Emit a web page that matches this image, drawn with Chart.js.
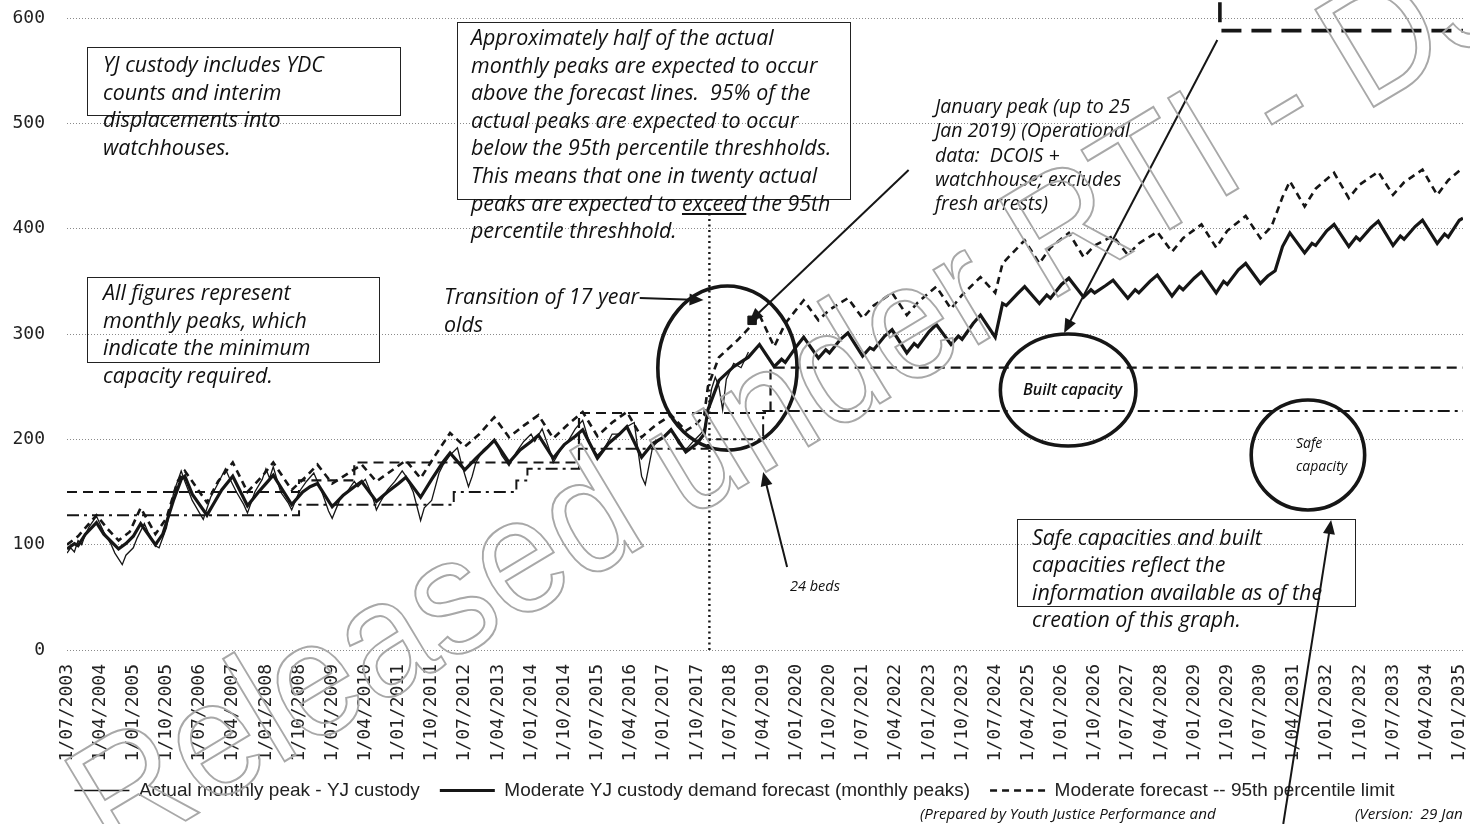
<!DOCTYPE html>
<html>
<head>
<meta charset="utf-8">
<title>YJ custody demand forecast</title>
<script src="https://cdn.jsdelivr.net/npm/chart.js@4.4.1/dist/chart.umd.min.js"></script>
<style>
  html, body { margin: 0; padding: 0; background: #fff; }
  #wrap { position: relative; width: 1470px; height: 824px; overflow: hidden; }
  #chart { position: absolute; left: 0; top: 0; }
  .note { position: absolute; font-family: "Open Sans", sans-serif; font-style: italic; font-size: 21.4px; line-height: 27.6px; color: #111; white-space: nowrap; }
  .box { position: absolute; border: 1.4px solid #222; box-sizing: border-box; }
  .small { font-size: 14.5px; line-height: 18px; }
  .wm { position: absolute; left: 0; top: 0; transform-origin: 0 0;
        transform: translate(118px, 872px) rotate(-31deg) scale(0.9, 1) translate(0, -148px);
        font-family: "Liberation Sans", sans-serif; font-size: 165px; line-height: 1; color: transparent;
        -webkit-text-stroke: 2px #a8a8a8; white-space: nowrap; pointer-events: none; }
</style>
</head>
<body>
<div id="wrap">
  <canvas id="chart" width="1470" height="824"></canvas>

  <div class="box" style="left:87px; top:47px; width:314px; height:69px;"></div>
  <div class="note" style="left:103px; top:50px;">YJ custody includes YDC<br>counts and interim<br>displacements into<br>watchhouses.</div>

  <div class="box" style="left:87px; top:277px; width:293px; height:86px;"></div>
  <div class="note" style="left:103px; top:278px;">All figures represent<br>monthly peaks, which<br>indicate the minimum<br>capacity required.</div>

  <div class="box" style="left:457px; top:22px; width:394px; height:178px;"></div>
  <div class="note" style="left:471px; top:23px;">Approximately half of the actual<br>monthly peaks are expected to occur<br>above the forecast lines.&nbsp; 95% of the<br>actual peaks are expected to occur<br>below the 95th percentile threshholds.<br>This means that one in twenty actual<br>peaks are expected to <u>exceed</u> the 95th<br>percentile threshhold.</div>

  <div class="note" style="left:444px; top:282px; line-height:28px;">Transition of 17 year<br>olds</div>

  <div class="note" style="left:935px; top:94px; font-size:19.5px; line-height:24.3px;">January peak (up to 25<br>Jan 2019) (Operational<br>data:&nbsp; DCOIS +<br>watchhouse; excludes<br>fresh arrests)</div>

  <div class="note small" style="left:1023px; top:380px; font-size:16px; font-weight:600;">Built capacity</div>
  <div class="note small" style="left:1296px; top:431px; font-size:14px; line-height:23px;">Safe<br>capacity</div>
  <div class="note small" style="left:790px; top:577px;">24 beds</div>

  <div class="box" style="left:1017px; top:519px; width:339px; height:88px;"></div>
  <div class="note" style="left:1032px; top:523px; line-height:27.3px;">Safe capacities and built<br>capacities reflect the<br>information available as of the<br>creation of this graph.</div>

  <div class="note" style="left:920px; top:805px; font-size:15.2px; line-height:16px;">(Prepared by Youth Justice Performance and</div>
  <div class="note" style="left:1355px; top:805px; font-size:15.2px; line-height:16px;">(Version:&nbsp; 29 Jan</div>

  <div class="wm">Released under RTI - DJAG</div>
</div>

<script>
// Month axis starts at July 2003; x values are months since then
const START_YEAR = 2003;
const START_MONTH = 7;
const END_MONTH = '2035-02';

// Actual monthly peak - YJ custody
const actualMonths = [
  '2003-07','2003-08','2003-09','2003-10','2003-11','2003-12',
  '2004-01','2004-03','2004-05','2004-07','2004-08','2004-10','2004-11',
  '2005-01','2005-02','2005-04','2005-05','2005-07','2005-08','2005-10','2005-12',
  '2006-02','2006-03','2006-05','2006-07','2006-08','2006-10','2006-12',
  '2007-02','2007-03','2007-05','2007-07','2007-08','2007-10','2007-12',
  '2008-01','2008-02','2008-03','2008-05','2008-07','2008-08','2008-10','2008-12',
  '2009-02','2009-04','2009-06','2009-07','2009-09','2009-11',
  '2010-01','2010-02','2010-04','2010-06','2010-07','2010-08','2010-10','2010-12',
  '2011-02','2011-03','2011-05','2011-07','2011-08','2011-10','2011-12',
  '2012-01','2012-03','2012-05','2012-06','2012-08','2012-09','2012-10','2012-12',
  '2013-02','2013-03','2013-05','2013-07','2013-09','2013-11',
  '2014-01','2014-02','2014-04','2014-06','2014-07','2014-09','2014-11',
  '2015-01','2015-03','2015-05','2015-07','2015-09','2015-11',
  '2016-01','2016-03','2016-05','2016-06','2016-07','2016-08','2016-09','2016-10','2016-12',
  '2017-02','2017-03','2017-05','2017-07','2017-09','2017-11','2017-12',
  '2018-01','2018-02','2018-03','2018-04','2018-05','2018-06','2018-08','2018-10','2018-12'
];
const actualValues = [
  92, 97, 93, 104, 100, 110,
  117, 127, 112, 100, 92, 81, 90,
  97, 106, 120, 112, 99, 97, 116, 150,
  170, 160, 142, 130, 124, 145, 158,
  172, 164, 150, 138, 130, 150, 162,
  172, 163, 174, 150, 140, 133, 150, 160,
  168, 152, 132, 125, 142, 150,
  160, 155, 162, 145, 133, 140, 152, 160,
  170, 165, 150, 123, 135, 142, 168,
  175, 185, 192, 178, 155, 165, 178, 190,
  196, 200, 185, 175, 188, 198,
  205, 198, 210, 190, 178, 190, 198,
  210, 218, 195, 185, 192, 205,
  205, 212, 216, 190, 165, 157, 175, 193, 200,
  206, 210, 196, 190, 198, 205, 210,
  226, 248, 259, 250, 228, 257, 272, 268, 283
];

// January 2019 operational peak
const janMonths = ['2019-01'];
const janValues = [313];

// Moderate YJ custody demand forecast (monthly peaks)
const forecastMonths = [
  '2003-07','2003-09','2003-10','2003-12',
  '2004-03','2004-05','2004-09','2004-11',
  '2005-01','2005-03','2005-07','2005-09','2005-12',
  '2006-02','2006-03','2006-05','2006-09','2006-11',
  '2007-01','2007-04','2007-08','2007-11',
  '2008-01','2008-03','2008-08','2008-11',
  '2009-01','2009-03','2009-07','2009-10',
  '2010-01','2010-03','2010-07','2010-10',
  '2011-01','2011-03','2011-07','2011-10',
  '2012-01','2012-03','2012-07','2012-10',
  '2013-01','2013-03','2013-07','2013-10',
  '2014-01','2014-03','2014-07','2014-10',
  '2015-01','2015-03','2015-07','2015-10',
  '2016-01','2016-03','2016-07','2016-10',
  '2017-01','2017-03','2017-07','2017-10','2017-12',
  '2018-01','2018-04','2018-08','2018-12',
  '2019-03','2019-07','2019-09','2019-10',
  '2020-01','2020-03','2020-07','2020-09','2020-10',
  '2021-01','2021-03','2021-07','2021-09','2021-10',
  '2022-01','2022-03','2022-07','2022-09','2022-10',
  '2023-01','2023-03','2023-07','2023-09','2023-10',
  '2024-01','2024-03','2024-07','2024-09','2024-10',
  '2025-01','2025-03','2025-07','2025-09','2025-10',
  '2026-01','2026-03','2026-07','2026-09','2026-10',
  '2027-01','2027-03','2027-07','2027-09','2027-10',
  '2028-01','2028-03','2028-07','2028-09','2028-10',
  '2029-01','2029-03','2029-07','2029-09','2029-10',
  '2030-01','2030-03','2030-07','2030-09','2030-11',
  '2031-01','2031-03','2031-07','2031-09','2031-10',
  '2032-01','2032-03','2032-07','2032-09','2032-10',
  '2033-01','2033-03','2033-07','2033-09','2033-10',
  '2034-01','2034-03','2034-07','2034-09','2034-10',
  '2035-01','2035-02'
];
const forecastValues = [
  96, 101, 99, 110,
  121, 110, 96, 101,
  108, 120, 100, 110, 143,
  162, 165, 148, 128, 140,
  152, 165, 137, 150,
  158, 166, 138, 150,
  155, 158, 136, 147,
  155, 160, 141, 150,
  158, 164, 145, 162,
  178, 187, 171, 182,
  192, 199, 178, 190,
  198, 204, 182, 195,
  203, 209, 182, 196,
  205, 212, 183, 196,
  202, 209, 188, 196, 205,
  228, 256, 269, 278,
  290, 269, 276, 273,
  288, 297, 277, 285, 282,
  295, 301, 279, 287, 285,
  298, 304, 282, 291, 288,
  302, 309, 290, 298, 295,
  310, 318, 297, 329, 327,
  338, 345, 329, 337, 334,
  347, 353, 335, 342, 339,
  346, 351, 334, 342, 339,
  350, 356, 336, 345, 342,
  353, 359, 339, 350, 347,
  361, 367, 348, 355, 360,
  383, 396, 377, 386, 384,
  398, 404, 383, 392, 389,
  401, 407, 384, 393, 390,
  402, 408, 386, 395, 392,
  408, 410
];

// Moderate forecast -- 95th percentile limit
const p95Months = [
  '2003-07','2003-10',
  '2004-01','2004-03','2004-06','2004-09','2004-12',
  '2005-03','2005-07','2005-10',
  '2006-01','2006-03','2006-06','2006-09','2006-12',
  '2007-04','2007-08','2007-12',
  '2008-03','2008-08','2008-12',
  '2009-03','2009-07','2009-11',
  '2010-03','2010-07','2010-11',
  '2011-03','2011-07','2011-11',
  '2012-03','2012-07','2012-11',
  '2013-03','2013-07','2013-11',
  '2014-03','2014-07','2014-11',
  '2015-03','2015-07','2015-11',
  '2016-03','2016-07','2016-11',
  '2017-03','2017-07','2017-10','2017-12',
  '2018-01','2018-04','2018-09','2018-12',
  '2019-03','2019-07','2019-10',
  '2020-03','2020-07','2020-10',
  '2021-03','2021-07','2021-10',
  '2022-03','2022-07','2022-10',
  '2023-03','2023-07','2023-10',
  '2024-03','2024-07','2024-09','2024-12',
  '2025-03','2025-07','2025-10',
  '2026-03','2026-07','2026-10',
  '2027-03','2027-07','2027-10',
  '2028-03','2028-07','2028-10',
  '2029-03','2029-07','2029-10',
  '2030-03','2030-07','2030-10',
  '2031-01','2031-03','2031-07','2031-10',
  '2032-03','2032-07','2032-10',
  '2033-03','2033-07','2033-10',
  '2034-03','2034-07','2034-10',
  '2035-02'
];
const p95Values = [
  100, 108,
  120, 128, 115, 104, 112,
  135, 110, 125,
  160, 170, 155, 140, 160,
  178, 150, 165,
  178, 152, 165,
  176, 158, 167,
  176, 160, 170,
  180, 163, 185,
  206, 193, 205,
  221, 202, 213,
  223, 201, 214,
  226, 203, 216,
  226, 202, 214,
  223, 208, 215, 223,
  250, 278, 294, 305,
  318, 288, 310,
  332, 313, 323,
  334, 315, 327,
  339, 318, 330,
  345, 324, 337,
  354, 339, 367, 378,
  389, 367, 382,
  396, 373, 384,
  393, 375, 386,
  397, 378, 391,
  404, 382, 398,
  412, 391, 402,
  430, 445, 421, 438,
  453, 429, 442,
  454, 432, 444,
  456, 432, 446,
  458
];

// Capacity steps (value applies from the given month)
const builtStart = ['2003-07', '2008-10', '2010-01', '2015-02', '2019-06'];
const builtCap = [150, 161, 178, 225, 268];
const safeStart = ['2003-07', '2008-10', '2012-04', '2013-09', '2013-12', '2015-02', '2018-01', '2019-04'];
const safeCap = [128, 138, 150, 161, 172, 191, 200, 227];
const newStart = ['2029-07', '2029-08'];
const newCap = [640, 588];

const yTicks = [0, 100, 200, 300, 400, 500, 600];
const LABEL_EVERY = 9; // months between x labels

function toIdx(s) {
  const [y, m] = s.split('-').map(Number);
  return (y - START_YEAR) * 12 + (m - START_MONTH);
}
function idxLabel(i) {
  const t = START_MONTH - 1 + i;
  const y = START_YEAR + Math.floor(t / 12);
  const m = (t % 12) + 1;
  return '1/' + String(m).padStart(2, '0') + '/' + y;
}
function pts(months, values) {
  return months.map((mo, i) => ({ x: toIdx(mo), y: values[i] }));
}
function steps(starts, values) {
  const p = pts(starts, values);
  p.push({ x: toIdx(END_MONTH), y: values[values.length - 1] });
  return p;
}

const INK = '#161616';

// circles, arrows and the transition marker, placed in data units
const notes = {
  id: 'notes',
  afterDatasetsDraw(chart) {
    const { ctx } = chart;
    const px = m => chart.scales.x.getPixelForValue(m);
    const py = v => chart.scales.y.getPixelForValue(v);
    ctx.save();
    ctx.strokeStyle = INK;
    ctx.fillStyle = INK;

    ctx.setLineDash([2, 3.5]);
    ctx.lineWidth = 2.4;
    ctx.beginPath();
    ctx.moveTo(px(174.4), py(0));
    ctx.lineTo(px(174.4), py(423));
    ctx.stroke();
    ctx.setLineDash([]);

    function ellipse(m, v, rm, rv) {
      const cx = px(m), cy = py(v);
      ctx.lineWidth = 3.6;
      ctx.beginPath();
      ctx.ellipse(cx, cy, px(m + rm) - cx, cy - py(v + rv), 0, 0, Math.PI * 2);
      ctx.stroke();
    }
    function arrow(m1, v1, m2, v2) {
      const x1 = px(m1), y1 = py(v1), x2 = px(m2), y2 = py(v2);
      const a = Math.atan2(y2 - y1, x2 - x1);
      const h = 14, w = 6;
      ctx.lineWidth = 2;
      ctx.beginPath();
      ctx.moveTo(x1, y1);
      ctx.lineTo(x2 - Math.cos(a) * h * 0.8, y2 - Math.sin(a) * h * 0.8);
      ctx.stroke();
      ctx.beginPath();
      ctx.moveTo(x2, y2);
      ctx.lineTo(x2 - Math.cos(a) * h + Math.sin(a) * w, y2 - Math.sin(a) * h - Math.cos(a) * w);
      ctx.lineTo(x2 - Math.cos(a) * h - Math.sin(a) * w, y2 - Math.sin(a) * h + Math.cos(a) * w);
      ctx.closePath();
      ctx.fill();
    }

    ellipse(179.3, 267.7, 18.9, 77.9);
    ellipse(271.8, 246.8, 18.4, 53.2);
    ellipse(336.9, 185.1, 15.4, 52.2);

    arrow(155.5, 334.2, 172.8, 332.3);
    arrow(228.5, 455.7, 185.2, 311.4);
    arrow(312.3, 579.1, 270.7, 301.0);
    arrow(195.5, 78.8, 189.0, 169.0);
    arrow(330.2, -165.2, 343.2, 123.4);
    ctx.restore();
  }
};

const line = (extra) => Object.assign({
  borderColor: INK, backgroundColor: INK, pointRadius: 0, fill: false, tension: 0
}, extra);

new Chart(document.getElementById('chart'), {
  type: 'line',
  data: {
    datasets: [
      line({ label: 'Actual monthly peak - YJ custody', data: pts(actualMonths, actualValues), borderWidth: 1.3 }),
      line({ label: 'Moderate YJ custody demand forecast (monthly peaks)', data: pts(forecastMonths, forecastValues), borderWidth: 3.2 }),
      line({ label: 'Moderate forecast -- 95th percentile limit', data: pts(p95Months, p95Values), borderWidth: 2.6, borderDash: [7, 5] }),
      line({ label: 'Built capacity', data: steps(builtStart, builtCap), borderWidth: 2.2, borderDash: [10, 6], stepped: true }),
      line({ label: 'Safe capacity', data: steps(safeStart, safeCap), borderWidth: 2, borderDash: [12, 5, 3, 5], stepped: true }),
      line({ label: 'Future built capacity', data: steps(newStart, newCap), borderWidth: 3.6, borderDash: [20, 10], stepped: true, clip: false }),
      line({ label: 'January peak', data: pts(janMonths, janValues), showLine: false, pointRadius: 6, pointStyle: 'rect', pointBackgroundColor: INK })
    ]
  },
  options: {
    responsive: false,
    animation: false,
    devicePixelRatio: 1,
    layout: { padding: { top: 18, right: 1, left: 0, bottom: 14 } },
    scales: {
      x: {
        type: 'linear',
        min: 0,
        max: toIdx(END_MONTH),
        grid: { display: false, drawTicks: false },
        border: { display: false },
        afterBuildTicks: s => {
          const t = [];
          for (let i = 0; i <= s.max; i += LABEL_EVERY) t.push({ value: i });
          s.ticks = t;
        },
        afterFit: s => { s.height = 111; s.paddingLeft = 0; s.paddingRight = 0; },
        ticks: {
          autoSkip: false, minRotation: 90, maxRotation: 90, padding: 14,
          color: '#222', font: { family: 'DejaVu Sans Mono', size: 18 },
          callback: v => idxLabel(v)
        }
      },
      y: {
        min: 0, max: 600,
        afterBuildTicks: s => { s.ticks = yTicks.map(v => ({ value: v })); },
        afterFit: s => { s.width = 67; s.paddingTop = 0; s.paddingBottom = 0; },
        grid: { color: '#8a8a8a', lineWidth: 1, drawTicks: false },
        border: { display: false, dash: [1, 2] },
        ticks: { padding: 22, color: '#222', font: { family: 'DejaVu Sans Mono', size: 18 } }
      }
    },
    plugins: {
      tooltip: { enabled: false },
      legend: {
        position: 'bottom',
        labels: {
          filter: item => item.datasetIndex < 3,
          generateLabels: chart => {
            const items = Chart.defaults.plugins.legend.labels.generateLabels(chart);
            items.forEach(it => {
              const ds = chart.data.datasets[it.datasetIndex];
              it.lineDash = ds.borderDash || [];
              it.lineWidth = ds.borderWidth;
              it.strokeStyle = INK;
            });
            return items;
          },
          usePointStyle: true, pointStyle: 'line', pointStyleWidth: 55, boxHeight: 10,
          padding: 20, color: '#222',
          font: { family: 'Liberation Sans', size: 19 }
        }
      }
    }
  },
  plugins: [notes]
});
</script>
</body>
</html>
